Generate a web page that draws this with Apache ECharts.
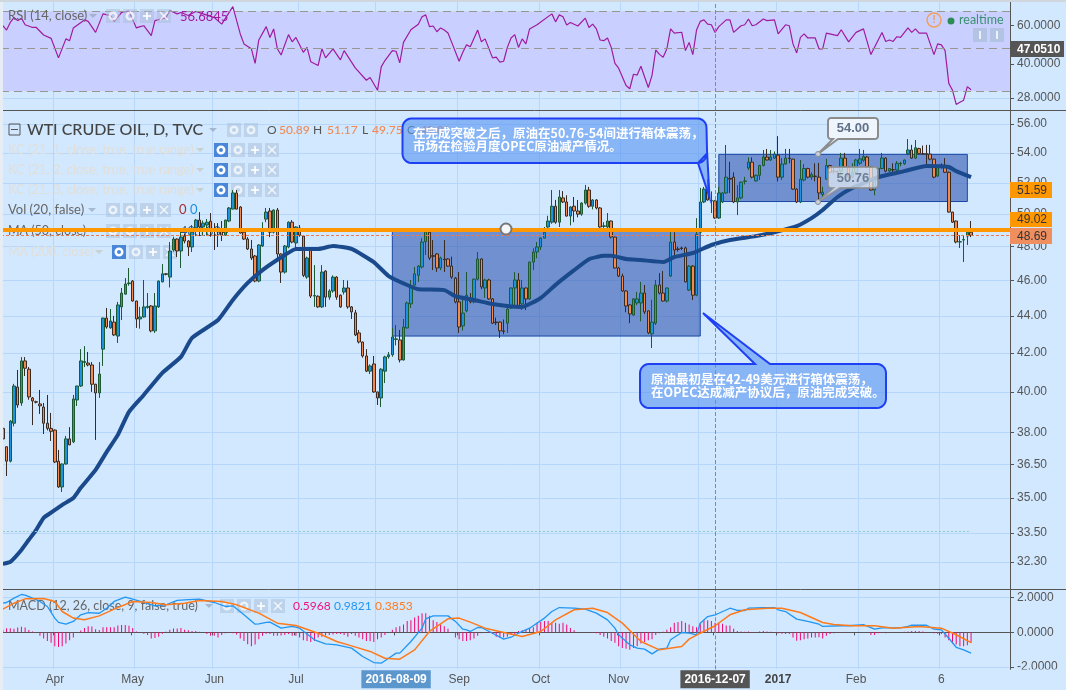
<!DOCTYPE html>
<html>
<head>
<meta charset="utf-8">
<title>WTI CRUDE OIL</title>
<style>
  html, body { margin: 0; padding: 0; background: #d1e8ff; overflow: hidden; }
  #chart { width: 1066px; height: 690px; }
</style>
<script src="https://cdn.jsdelivr.net/npm/echarts@6/dist/echarts.min.js"></script>
</head>
<body>
<div id="chart"></div>
<script>
// 横轴：每根K线一个交易日，后面留一段空白
const barCount = 272;
const tickLabels = {14: 'Apr', 35: 'May', 57: 'Jun', 79: 'Jul', 123: 'Sep', 145: 'Oct', 166: 'Nov', 209: '2017', 230: 'Feb', 253: '6'};
const gridTicks = [14, 36, 57, 80, 101, 123, 145, 167, 188, 209, 231, 253];
const crossDates = {106: '2016-08-09', 192: '2016-12-07'};
const crossIndex = 192;

// K线 [open, close, low, high]
const candles = [
  [38.2,37.7,37.3,38.44],[37.33,36.66,35.98,37.33],[36.66,38.55,36.6,38.6],[38.45,40.29,38.3,40.4],[40.24,39.34,39.2,41.11],
  [39.44,41.58,39.3,41.78],[41.58,41.2,40.8,41.78],[41.15,39.74,39.6,41.26],[39.69,39.54,38.36,39.74],[39.5,39.48,39.42,39.55],
  [39.39,39.3,38.9,40.09],[39.24,38.45,37.93,39.44],[38.45,38.2,38.1,39.84],[38.2,38.06,37.6,38.95],[38.12,36.62,36.57,38.15],
  [36.66,35.49,35.45,37.18],[35.49,36.53,35.27,36.55],[36.53,37.7,36.5,37.84],[37.7,37.42,37.4,38.26],[37.56,39.64,37.5,39.84],
  [39.59,40.29,39.29,40.3],[40.29,41.58,40.24,42.2],[41.5,41.55,41.26,42.36],[41.47,41.37,41.3,42.05],[41.37,40.38,39.99,41.52],
  [40.38,39.94,37.65,40.4],[39.94,40.9,39.69,41.52],[42.2,43.88,41.32,43.9],[43.88,43.39,43.3,44.44],[43.34,43.72,43.3,44.38],
  [43.66,42.96,42.9,44.0],[42.9,44.61,42.53,44.78],[44.5,45.28,43.77,45.57],[45.22,45.8,45.2,46.14],[45.82,45.86,45.7,46.73],
  [45.97,44.83,44.8,46.03],[44.83,43.83,43.34,44.85],[43.83,43.94,43.3,44.5],[43.94,44.5,43.9,46.03],[44.47,44.53,44.4,45.28],
  [44.55,43.18,43.1,44.6],[43.18,44.55,43.07,45.28],[44.5,45.97,44.45,46.0],[45.92,46.39,45.9,46.96],[46.39,46.36,46.3,46.42],
  [46.2,47.74,45.6,48.28],[47.8,48.46,47.7,48.6],[48.46,47.74,47.38,48.5],[47.74,48.58,46.73,49.0],[48.64,48.34,48.2,48.8],
  [48.34,47.98,47.44,48.4],[47.98,48.88,47.68,49.32],[49.14,49.63,48.64,49.7],[49.63,49.2,48.64,50.13],[49.2,49.44,48.7,49.6],
  [49.32,49.5,48.7,49.7],[49.56,49.01,48.6,50.07],[49.07,49.04,47.8,49.44],[49.0,48.9,47.98,49.44],[48.95,48.7,48.34,49.57],
  [48.7,49.63,48.7,49.65],[49.57,50.39,49.5,50.45],[50.32,51.35,50.3,51.54],[51.35,50.32,50.3,51.54],[50.45,48.83,48.8,50.5],
  [48.88,48.46,48.4,49.07],[48.46,47.86,47.8,48.58],[47.86,47.32,47.2,48.4],[47.44,45.97,45.9,47.5],[45.97,48.1,45.9,48.15],
  [48.04,48.95,47.98,49.5],[49.69,50.13,49.5,50.39],[50.2,48.88,48.58,50.39],[48.88,50.26,48.8,50.3],[50.26,47.56,47.2,50.39],
  [47.56,46.49,45.86,47.6],[46.49,48.04,46.4,48.1],[47.98,49.5,47.9,49.55],[49.5,48.28,48.2,49.63],[48.22,49.2,47.9,49.25],
  [49.14,48.7,48.6,49.32],[48.64,46.3,46.2,48.7],[46.2,47.32,46.1,47.4],[47.8,45.11,45.0,47.9],[45.11,45.14,44.5,46.9],
  [45.1,44.5,44.45,45.15],[44.5,46.49,44.45,46.9],[46.55,45.05,44.5,46.6],[45.05,45.4,44.9,45.5],[45.4,46.2,45.3,46.3],
  [46.2,45.05,44.9,46.25],[45.16,44.5,44.45,45.2],[45.34,45.57,45.2,46.03],[45.57,44.5,44.4,46.0],[44.5,44.22,43.83,44.55],
  [44.17,42.96,42.9,44.33],[43.07,42.58,42.5,43.23],[42.58,41.84,41.75,42.6],[41.84,41.05,41.0,42.2],[41.05,41.32,40.9,41.4],
  [41.42,39.99,39.95,41.84],[39.99,39.69,39.34,40.0],[39.69,41.15,39.24,41.2],[41.05,41.79,40.44,41.85],[41.8,41.9,41.7,42.05],
  [41.9,42.85,41.8,43.34],[42.72,42.75,42.4,43.5],[42.69,41.63,41.5,43.23],[41.63,43.39,41.6,43.83],[43.34,44.72,43.3,44.8],
  [44.67,45.68,44.44,46.03],[45.74,46.39,45.7,46.79],[46.3,46.84,45.92,46.9],[46.79,48.28,46.7,48.52],[48.3,48.95,47.5,49.0],
  [48.88,47.32,47.2,49.0],[47.46,47.42,46.61,48.4],[47.56,46.73,46.5,47.6],[46.73,47.32,46.6,47.4],[47.26,47.22,46.5,48.4],
  [47.26,46.84,46.8,47.3],[46.84,46.2,46.1,47.4],[46.14,44.78,44.7,46.2],[44.78,43.39,43.07,46.49],[43.45,44.16,43.2,44.89],
  [44.28,45.16,44.2,46.5],[44.95,44.78,44.7,45.28],[44.78,46.08,44.7,46.1],[46.08,47.26,46.0,47.68],[47.26,45.63,45.5,47.3],
  [45.57,46.03,45.0,46.1],[46.03,44.95,44.9,46.1],[44.95,43.6,43.55,45.0],[43.66,43.63,43.5,43.9],[43.66,43.18,42.8,43.7],
  [43.18,43.15,43.0,43.8],[43.6,44.38,43.07,44.45],[44.44,45.57,44.4,45.6],[45.57,46.03,44.5,46.49],[46.03,44.5,44.4,46.43],
  [44.67,45.57,44.33,46.03],[45.57,44.95,44.33,45.6],[44.95,47.08,44.9,47.1],[47.08,47.68,46.61,47.9],[47.68,47.98,47.3,48.28],
  [47.98,48.52,47.8,48.55],[48.52,48.88,48.5,49.2],[49.2,49.57,49.1,49.9],[49.5,50.5,49.4,51.54],[50.5,49.5,49.4,50.9],
  [49.5,51.09,49.2,51.54],[51.03,50.77,50.7,51.47],[50.77,49.88,49.85,51.2],[49.88,50.45,49.3,50.5],[50.5,50.2,49.5,51.09],
  [50.2,50.0,49.8,50.9],[50.0,50.7,49.9,50.75],[50.7,51.54,50.6,51.87],[51.54,50.5,50.4,51.74],[50.5,50.9,50.3,50.95],
  [50.9,50.39,50.3,50.95],[50.39,49.2,49.15,50.45],[49.24,49.27,49.1,49.5],[49.2,49.57,49.1,50.07],[49.57,48.58,48.5,49.6],
  [48.58,46.73,46.7,48.6],[46.73,46.26,46.2,46.8],[46.26,45.4,45.35,46.4],[45.4,44.55,44.2,45.45],[44.61,44.11,43.6,44.65],
  [44.05,44.95,44.0,45.0],[44.72,44.95,44.6,45.34],[44.72,45.28,43.7,45.92],[45.28,44.22,44.1,45.74],[44.28,43.07,43.0,44.3],
  [43.02,43.66,42.26,44.9],[43.6,45.74,43.5,46.03],[45.74,45.28,45.2,46.43],[45.28,44.83,44.8,46.55],[44.83,45.57,44.75,45.6],
  [46.26,48.28,46.2,48.88],[48.28,47.8,47.38,48.88],[47.86,47.83,47.7,48.0],[47.92,47.89,47.8,48.0],[47.92,45.92,45.9,48.0],
  [45.45,46.84,45.4,46.9],[46.84,45.16,44.89,46.9],[45.16,48.76,45.1,49.75],[48.88,50.77,48.8,51.68],[50.77,51.6,50.7,51.74],
  [51.6,50.9,50.85,52.25],[50.84,50.87,50.07,51.45],[50.84,49.76,49.7,50.9],[49.76,51.35,49.7,51.74],[50.77,51.35,50.7,51.4],
  [51.35,52.38,51.3,54.54],[52.3,52.25,51.35,53.4],[52.38,50.77,50.7,52.7],[50.77,51.03,49.94,51.87],[51.03,52.05,50.95,52.1],
  [52.1,52.13,51.9,52.4],[52.98,53.38,52.85,53.7],[53.38,52.38,52.3,53.7],[52.13,52.5,52.1,52.55],[52.5,53.15,52.19,53.2],
  [53.15,53.72,53.1,54.2],[53.72,53.52,53.5,54.27],[53.52,53.72,53.45,54.2],[53.65,53.92,53.6,54.1],[53.85,52.38,52.1,55.15],
  [52.38,53.25,52.2,53.65],[53.25,53.65,53.2,54.27],[53.65,53.62,53.3,54.27],[53.58,51.6,51.55,53.6],[51.6,50.77,50.7,51.65],
  [50.77,52.25,50.7,53.52],[52.19,52.95,52.1,53.25],[52.95,52.38,52.3,53.0],[52.38,52.55,52.2,52.7],[52.45,52.42,52.1,53.3],
  [52.38,51.35,50.9,53.32],[51.25,51.4,51.1,51.75],[52.25,53.15,52.2,53.6],[53.15,52.7,52.65,53.2],[52.78,52.75,52.6,53.0],
  [52.75,52.7,52.3,52.85],[52.78,53.65,52.4,54.0],[53.65,53.05,53.0,54.0],[53.05,52.38,52.3,53.1],[52.38,52.7,52.3,53.3],
  [52.7,53.52,52.65,53.6],[53.3,53.6,53.2,54.27],[53.5,53.75,53.4,54.2],[53.72,53.05,53.0,53.8],[53.05,51.54,51.5,53.1],
  [51.54,52.38,51.2,52.45],[52.3,52.95,52.25,53.0],[52.95,53.65,52.9,54.0],[53.65,52.78,52.7,53.7],[52.78,52.95,52.7,52.97],
  [52.88,52.85,52.7,53.3],[52.85,53.3,52.6,53.45],[53.27,53.3,53.1,53.4],[53.27,53.52,53.2,53.55],[53.95,54.2,53.85,54.95],
  [54.2,53.65,53.6,54.55],[53.65,54.35,53.6,54.88],[54.3,53.95,53.9,54.35],[53.95,53.93,53.9,54.5],[53.95,53.92,53.2,54.55],
  [53.92,53.58,53.5,54.55],[53.58,52.38,52.3,53.6],[52.45,53.15,52.4,53.2],[53.15,53.12,52.95,53.3],[53.1,52.7,52.65,53.65],
  [52.7,50.13,50.1,52.75],[50.13,49.5,49.45,50.15],[49.57,48.28,48.2,49.6],[48.28,48.3,47.92,48.7],[48.4,48.43,47.08,48.7],
  [48.64,48.88,48.1,48.9],[48.88,48.69,48.58,49.57]
];

// MA50 折线拐点 [bar, price]
const ma50 = [
  [0,32.22],[2,32.3],[5,32.79],[7,33.21],[9,33.63],[11,34.14],[13,34.36],[16,34.7],[19,35.0],[21,35.45],
  [25,36.26],[28,37.09],[31,37.89],[34,39.0],[38,39.84],[43,40.96],[48,41.79],[51,42.8],[58,43.77],[62,44.89],
  [66,45.86],[70,46.61],[76,47.5],[79,47.86],[85,47.86],[89,48.04],[94,47.86],[100,47.08],[104,46.26],[109,45.74],
  [112,45.5],[119,45.45],[122,45.1],[127,44.89],[132,44.66],[136,44.55],[140,44.5],[145,45.0],[149,45.75],[154,46.6],
  [158,47.25],[162,47.45],[164,47.45],[168,47.26],[172,47.2],[178,47.08],[181,47.38],[186,47.62],[191,48.1],[196,48.4],
  [203,48.64],[208,48.88],[214,49.25],[218,49.75],[221,50.26],[225,51.09],[229,51.67],[236,52.38],[243,52.78],[249,53.12],
  [255,53.05],[257,52.78],[261,52.38]
];

// RSI 折线拐点 [bar, value]
const rsiLine = [
  [0,60],[1,57.3],[2,62.1],[3,65.4],[4,63.3],[5,65],[6,60.6],[8,58.9],[9,58.9],[11,54.4],[13,52.5],[15,42.7],[17,52.2],[18,51.2],
  [19,58.6],[22,63.8],[23,62.8],[25,55.9],[27,68],[29,66.8],[30,62.8],[32,69],[34,70],[36,58.6],[37,59.4],[38,60],[40,54],[41,63.3],
  [44,65.4],[45,70.5],[47,68],[48,69],[50,66.8],[52,69.8],[54,68],[57,65.4],[59,61],[62,73.4],[64,55],[65,49.5],[67,47],[68,40.3],
  [69,51.6],[71,59.4],[72,53],[73,58],[74,47],[75,44],[77,54.6],[78,50.6],[79,53],[81,45.3],[82,47.7],[83,41],[85,39.4],[86,47],
  [87,42.7],[89,47],[91,41.8],[92,46.1],[95,38.4],[98,33.7],[99,34.7],[101,30.3],[102,38.8],[103,41.5],[105,46.1],[106,45.8],[107,40.5],
  [108,50.3],[110,57.5],[112,61],[113,66],[114,67.3],[115,59.4],[116,59.8],[117,56.3],[118,58.6],[119,57.3],[120,55.5],[121,50.3],
  [123,41.2],[124,45.3],[125,49],[126,48],[128,57.3],[129,50.6],[130,52.2],[132,42.7],[133,43],[134,40.8],[135,41.2],[136,47.7],
  [137,52.7],[138,54.6],[139,47.7],[140,52.2],[141,49.5],[142,58],[144,60.6],[148,68],[149,62.5],[150,67.3],[151,66],[152,60.4],
  [153,62.1],[155,59.8],[157,65],[158,58.9],[159,61],[160,58],[161,51.6],[162,51.2],[163,52.7],[164,47.7],[165,40.3],[166,38.3],
  [168,31.9],[169,30.8],[170,35.9],[171,35.6],[172,39.1],[174,31.2],[175,35.5],[176,46.4],[177,44.3],[178,43],[179,47],[180,58],
  [181,55.5],[183,56],[184,46.1],[185,50.3],[186,44.2],[187,57.3],[188,62.8],[189,63.8],[190,61],[191,60.6],[192,55.9],[193,59.4],
  [195,63.8],[196,63.8],[197,55.9],[199,60],[200,60.6],[201,64.4],[202,60],[203,60.6],[205,64.4],[206,63.3],[208,63.8],[209,55],
  [211,60.6],[212,60],[213,49.5],[214,45],[215,53],[216,55],[217,52.7],[219,52.7],[220,47],[221,47],[222,55.5],[225,54],[226,57.5],
  [228,50.6],[230,55.9],[232,58],[234,44.2],[237,55.9],[238,50.8],[239,51.6],[240,50.8],[241,53.4],[242,53],[244,58.6],[245,55.9],
  [246,58],[247,55.5],[249,55.5],[251,44.2],[252,49.5],[253,49],[254,46.1],[255,32.6],[256,30.3],[257,26.1],[258,26.7],[259,27.3],
  [260,31.5],[261,30.5]
];

// MACD 快线、慢线拐点 [bar, value]
const macdLine = [
  [0,1.68],[1,1.72],[3,1.97],[5,2.18],[6,2.14],[8,1.97],[10,1.78],[12,1.49],[14,0.82],[15,0.57],[17,0.47],[19,0.63],[21,1.01],[23,1.14],
  [26,1.1],[28,1.39],[30,1.78],[33,2.03],[35,1.91],[38,1.72],[41,1.53],[44,1.59],[47,1.84],[50,1.88],[53,1.91],[57,1.72],[60,1.49],
  [62,1.53],[65,1.01],[68,0.47],[69,0.49],[71,0.57],[72,0.59],[75,0.24],[78,0.34],[80,0.24],[84,-0.43],[87,-0.66],[90,-0.72],[94,-0.91],
  [97,-1.39],[100,-1.74],[102,-1.78],[104,-1.49],[106,-1.2],[107,-1.2],[110,-0.53],[113,0.24],[114,0.78],[116,0.95],[118,0.95],[120,0.95],
  [122,0.63],[124,0.18],[125,0.14],[126,0.05],[128,0.28],[129,0.28],[132,-0.05],[135,-0.39],[137,-0.28],[139,-0.05],[142,0.24],[146,0.82],
  [148,1.2],[150,1.43],[154,1.39],[157,1.34],[160,1.11],[163,0.72],[165,0.24],[166,-0.14],[169,-0.72],[171,-0.91],[173,-0.97],[175,-1.24],
  [177,-0.97],[179,-0.91],[180,-0.43],[183,-0.01],[185,-0.05],[187,-0.14],[188,0.53],[190,0.91],[192,1.01],[193,1.1],[196,1.39],[198,1.26],
  [200,1.26],[201,1.39],[205,1.43],[208,1.43],[209,1.3],[211,1.2],[214,0.76],[217,0.63],[220,0.47],[221,0.34],[226,0.38],[228,0.38],
  [232,0.45],[235,0.18],[237,0.26],[242,0.26],[244,0.34],[245,0.41],[249,0.41],[251,0.18],[253,0.14],[255,-0.34],[257,-0.86],[259,-1.01],[261,-1.2]
];
const signalLine = [
  [0,1.34],[3,1.68],[6,1.93],[11,1.95],[14,1.78],[16,1.2],[19,0.82],[22,0.72],[26,0.95],[30,1.34],[35,1.78],[40,1.72],[44,1.59],[49,1.68],
  [53,1.84],[59,1.78],[63,1.59],[69,1.11],[74,0.53],[79,0.39],[85,-0.05],[90,-0.53],[94,-0.78],[99,-1.1],[103,-1.49],[107,-1.55],[111,-1.01],
  [115,0.05],[120,0.78],[123,0.82],[126,0.59],[130,0.24],[136,-0.05],[140,-0.24],[145,0.05],[149,0.72],[154,1.3],[159,1.39],[163,1.14],
  [167,0.53],[172,-0.53],[177,-1.01],[183,-0.82],[185,-0.39],[188,-0.05],[192,0.38],[196,1.01],[200,1.3],[206,1.39],[210,1.39],[215,1.14],
  [221,0.57],[224,0.45],[229,0.38],[235,0.38],[240,0.24],[247,0.34],[253,0.24],[257,-0.14],[261,-0.59]
];
const macdHist = [
  0.15,0.24,0.24,0.2,0.28,0.32,0.28,0.14,0.05,0,-0.2,-0.35,-0.5,-0.6,-0.8,-0.85,-0.8,-0.65,-0.45,-0.3,
  0,0.1,0.25,0.35,0.33,0.18,0.13,0.3,0.3,0.3,0.3,0.4,0.42,0.42,0.38,0.25,0.05,-0.03,-0.08,-0.15,
  -0.35,-0.33,-0.25,-0.08,0.03,0.15,0.22,0.22,0.25,0.15,0.12,0.08,0.08,0.03,0,-0.1,-0.2,-0.2,-0.3,-0.15,
  -0.05,-0.03,-0.05,-0.12,-0.35,-0.5,-0.68,-0.8,-0.7,-0.4,-0.2,-0.08,-0.1,-0.2,-0.2,-0.18,-0.15,-0.1,-0.2,-0.2,
  -0.3,-0.45,-0.5,-0.55,-0.5,-0.3,-0.25,-0.18,-0.15,-0.12,-0.1,-0.1,-0.15,-0.25,-0.1,-0.2,-0.3,-0.4,-0.5,-0.52,
  -0.55,-0.4,-0.3,-0.15,0,0.15,0.3,0.35,0.45,0.65,0.7,0.85,0.95,1.1,1.1,0.95,0.7,0.6,0.45,0.35,
  0.2,0,-0.3,-0.4,-0.5,-0.5,-0.45,-0.35,-0.2,-0.05,0,-0.02,-0.1,-0.25,-0.3,-0.3,-0.25,-0.15,-0.1,0.08,
  0.12,0.15,0.25,0.3,0.55,0.6,0.65,0.65,0.55,0.55,0.5,0.55,0.45,0.25,0.12,0.02,0,0.02,0.02,0.02,
  -0.05,-0.15,-0.25,-0.35,-0.5,-0.6,-0.8,-0.9,-0.95,-1,-0.9,-0.8,-0.65,-0.55,-0.45,-0.4,-0.15,-0.05,0.03,0.15,
  0.3,0.55,0.6,0.65,0.55,0.45,0.35,0.3,0.55,0.7,0.7,0.65,0.55,0.55,0.5,0.4,0.4,0.2,0.08,0.05,
  0.03,0.05,0.02,0.02,0.05,0.08,0.05,0.03,0,-0.05,-0.08,-0.1,-0.1,-0.3,-0.48,-0.45,-0.4,-0.35,-0.3,-0.3,
  -0.28,-0.35,-0.2,-0.1,-0.05,-0.03,-0.02,-0.02,0,0,0,0.02,0.02,0,-0.15,-0.15,-0.05,-0.03,-0.05,-0.03,
  0,0,0,0.03,0.05,0.08,0.08,0.08,0.05,0.02,0,-0.05,-0.08,-0.1,-0.3,-0.45,-0.65,-0.7,-0.8,-0.8,-0.75,-0.6
];

// 坐标轴刻度
const priceTicks = [56, 54, 52, 50, 48, 46, 44, 42, 40, 38, 36.5, 35, 33.5, 32.3];
const rsiTicks = [60, 40, 28];
const macdTicks = [2, 0, -2];

// 水平参考线和箱体
const supportLevel = 49.06;
const closeLevel = 48.69;
const lowLevel = 33.55;
const rsiBand = [70, 30];
const rsiMid = 47.051;
const boxEarly = {from: 105, to: 188, top: 48.95, bottom: 42.9};
const boxLate = {from: 193, to: 260, top: 53.9, bottom: 50.8};

const bg = '#d1e8ff';
const gridColor = '#b6d6fb';
const axisColor = '#555555';
const labelFont = '"Liberation Sans", Arial, sans-serif';
const legendFont = 'Lato, "Noto Sans", sans-serif';
const cjkFont = '"Noto Sans CJK SC", sans-serif';

const categories = [];
for (let i = 0; i < barCount; i++) {
  categories.push(String(i));
}

function isGridTick(index) {
  return gridTicks.indexOf(index) >= 0;
}

function xAxisFor(gridIndex, withLabels) {
  return {
    type: 'category',
    gridIndex: gridIndex,
    data: categories,
    axisLine: {show: withLabels, lineStyle: {color: axisColor}},
    axisTick: {show: withLabels, interval: function (i) { return tickLabels[i] !== undefined || crossDates[i] !== undefined; }, length: 3, lineStyle: {color: axisColor}},
    axisLabel: {
      show: withLabels,
      interval: function (i) { return tickLabels[i] !== undefined || crossDates[i] !== undefined; },
      margin: 10,
      verticalAlign: 'middle',
      fontFamily: labelFont,
      fontSize: 12,
      color: axisColor,
      formatter: function (value) {
        if (value === '106') return '{blue|' + crossDates[106] + '}';
        if (value === '192') return '{dark|' + crossDates[192] + '}';
        if (value === '209') return '{bold|2017}';
        return tickLabels[value];
      },
      rich: {
        blue: {backgroundColor: '#5b96cc', color: '#fff', fontWeight: 'bold', fontSize: 12, padding: [3, 4, 3, 4]},
        dark: {backgroundColor: '#555555', color: '#fff', fontWeight: 'bold', fontSize: 12, padding: [3, 4, 3, 4]},
        bold: {color: '#444', fontWeight: 'bold', fontSize: 12}
      }
    },
    splitLine: {show: true, interval: function (i) { return isGridTick(i); }, lineStyle: {color: gridColor}}
  };
}

function yAxisFor(gridIndex, type, min, max, ticks, digits) {
  return {
    type: type,
    gridIndex: gridIndex,
    position: 'right',
    min: min,
    max: max,
    axisLine: {show: true, lineStyle: {color: axisColor}},
    axisTick: {show: true, length: 4, customValues: ticks, lineStyle: {color: axisColor}},
    axisLabel: {
      customValues: ticks,
      margin: 7,
      fontFamily: labelFont,
      fontSize: 12,
      color: axisColor,
      formatter: function (v) { return Number(v).toFixed(digits); }
    },
    splitLine: {show: true, lineStyle: {color: gridColor}}
  };
}

function crossLine() {
  return {
    symbol: 'none', silent: true, animation: false, label: {show: false},
    lineStyle: {color: '#8a8a8a', type: 'dashed', width: 1},
    data: [{xAxis: crossIndex}]
  };
}

// 以下是标注、图例等叠加图形
function text(x, y, str, color, size, weight, family, z, align) {
  return {
    type: 'text', x: x, y: y, z: z || 1, silent: true,
    style: {text: str, fill: color, fontSize: size || 13, fontWeight: weight || 'normal', fontFamily: family || legendFont, verticalAlign: 'middle', align: align || 'left'}
  };
}

function square(x, y, color, z) {
  return {type: 'rect', z: z || 1, silent: true, shape: {x: x, y: y - 7, width: 14, height: 14}, style: {fill: color}};
}

// 眼睛、齿轮、加号、叉 四个小按钮
function icons(x, y, eyeBlue, z) {
  const gray = 'rgba(170,190,215,0.5)';
  const lvl = z || 1;
  const out = [];
  out.push(square(x, y, eyeBlue ? '#4a86d8' : gray, lvl));
  out.push({type: 'ring', z: lvl, silent: true, shape: {cx: x + 7, cy: y, r: 4.5, r0: 2}, style: {fill: eyeBlue ? '#fff' : 'rgba(255,255,255,0.7)'}});
  out.push(square(x + 17, y, gray, lvl));
  out.push({type: 'ring', z: lvl, silent: true, shape: {cx: x + 24, cy: y, r: 4.5, r0: 2}, style: {fill: 'rgba(255,255,255,0.7)'}});
  out.push(square(x + 34, y, gray, lvl));
  out.push({type: 'line', z: lvl, silent: true, shape: {x1: x + 37, y1: y, x2: x + 45, y2: y}, style: {stroke: 'rgba(255,255,255,0.8)', lineWidth: 2}});
  out.push({type: 'line', z: lvl, silent: true, shape: {x1: x + 41, y1: y - 4, x2: x + 41, y2: y + 4}, style: {stroke: 'rgba(255,255,255,0.8)', lineWidth: 2}});
  out.push(square(x + 51, y, gray, lvl));
  out.push({type: 'line', z: lvl, silent: true, shape: {x1: x + 54, y1: y - 4, x2: x + 62, y2: y + 4}, style: {stroke: 'rgba(255,255,255,0.8)', lineWidth: 1.5}});
  out.push({type: 'line', z: lvl, silent: true, shape: {x1: x + 54, y1: y + 4, x2: x + 62, y2: y - 4}, style: {stroke: 'rgba(255,255,255,0.8)', lineWidth: 1.5}});
  return out;
}

function caret(x, y, color, z) {
  return {type: 'polygon', z: z || 1, silent: true, shape: {points: [[x, y - 2], [x + 8, y - 2], [x + 4, y + 2]]}, style: {fill: color}};
}

// 带尾巴的圆角气泡，tail 插入到指定角之后
function bubblePoints(x, y, w, h, r, tail, tailAfter) {
  const corners = [[x + w - r, y + r, -90], [x + w - r, y + h - r, 0], [x + r, y + h - r, 90], [x + r, y + r, 180]];
  const pts = [];
  corners.forEach(function (c, idx) {
    for (let a = 0; a <= 90; a += 15) {
      const rad = (c[2] + a) * Math.PI / 180;
      pts.push([c[0] + r * Math.cos(rad), c[1] + r * Math.sin(rad)]);
    }
    if (idx === tailAfter) {
      tail.forEach(function (p) { pts.push(p); });
    }
  });
  return pts;
}

function bubble(x, y, w, h, r, tail, tailAfter, fill, stroke, lineWidth) {
  return {
    type: 'polygon', z: 100, silent: true,
    shape: {points: bubblePoints(x, y, w, h, r, tail, tailAfter)},
    style: {fill: fill, stroke: stroke, lineWidth: lineWidth}
  };
}

const overlay = [];
// RSI 图例，要盖在紫色带上面
overlay.push(text(8, 16, 'RSI (14, close)', '#666', 13, 'normal', legendFont, 10));
overlay.push(caret(89, 16, 'rgba(150,165,185,0.7)', 10));
overlay.push.apply(overlay, icons(106, 16, false, 10));
overlay.push(text(180, 17, '56.6845', '#a01aa0', 13, 'normal', legendFont, 10));
// 主图图例
overlay.push({type: 'rect', z: 1, silent: true, shape: {x: 9, y: 124, width: 11, height: 11}, style: {fill: 'none', stroke: '#555', lineWidth: 1}});
overlay.push({type: 'line', z: 1, silent: true, shape: {x1: 11, y1: 129.5, x2: 18, y2: 129.5}, style: {stroke: '#555', lineWidth: 1}});
overlay.push(text(27, 130, 'WTI CRUDE OIL, D, TVC', '#444', 16, 500));
overlay.push(caret(209, 130, 'rgba(150,165,185,0.7)'));
overlay.push(square(227, 130, 'rgba(170,190,215,0.5)'));
overlay.push({type: 'ring', z: 1, silent: true, shape: {cx: 234, cy: 130, r: 4.5, r0: 2}, style: {fill: 'rgba(255,255,255,0.7)'}});
overlay.push(square(244, 130, 'rgba(170,190,215,0.5)'));
overlay.push({type: 'ring', z: 1, silent: true, shape: {cx: 251, cy: 130, r: 4.5, r0: 2}, style: {fill: 'rgba(255,255,255,0.7)'}});
overlay.push(text(267, 130, 'O', '#555', 12));
overlay.push(text(279, 130, '50.89', '#ef8a55', 12, 500));
overlay.push(text(313, 130, 'H', '#555', 12));
overlay.push(text(327, 130, '51.17', '#ef8a55', 12, 500));
overlay.push(text(362, 130, 'L', '#555', 12));
overlay.push(text(372, 130, '49.75', '#ef8a55', 12, 500));
overlay.push(text(407, 130, 'C', '#555', 12));
overlay.push(text(420, 130, '49.81', '#ef8a55', 12, 500));
['KC (21, 1, close, true, true range)', 'KC (21, 2, close, true, true range)', 'KC (21, 3, close, true, true range)'].forEach(function (name, idx) {
  const y = 150 + idx * 20;
  overlay.push(text(8, y, name, '#e2ded8', 13));
  overlay.push(caret(196, y, 'rgba(200,200,195,0.8)'));
  overlay.push.apply(overlay, icons(214, y, true));
});
overlay.push(text(8, 210, 'Vol (20, false)', '#666', 13));
overlay.push(caret(88, 210, 'rgba(150,165,185,0.7)'));
overlay.push.apply(overlay, icons(106, 210, false));
overlay.push(text(179, 210, '0', '#a03030', 13));
overlay.push(text(190, 210, '0', '#1e90e0', 13));
overlay.push(text(8, 231, 'MA (50, close)', '#666', 12.5));
overlay.push(caret(88, 231, 'rgba(150,165,185,0.7)'));
overlay.push.apply(overlay, icons(106, 231, false));
overlay.push(text(180, 232, '48.1034', '#2a5a90', 13));
overlay.push(text(8, 252, 'MA (200, close)', '#e2ded8', 12.5));
overlay.push(caret(95, 252, 'rgba(200,200,195,0.8)'));
overlay.push.apply(overlay, icons(112, 252, true));
// MACD 图例
overlay.push(text(8, 606, 'MACD (12, 26, close, 9, false, true)', '#666', 12.5));
overlay.push(caret(205, 606, 'rgba(150,165,185,0.7)'));
overlay.push.apply(overlay, icons(220, 606, false));
overlay.push(text(293, 606, '0.5968', '#f0127a', 12));
overlay.push(text(334, 606, '0.9821', '#2196f3', 12));
overlay.push(text(375, 606, '0.3853', '#ff7a1a', 12));

// realtime 状态
overlay.push({type: 'circle', z: 100, silent: true, shape: {cx: 934, cy: 20, r: 7}, style: {fill: 'none', stroke: '#f0a060', lineWidth: 1.5}});
overlay.push(text(934, 20, '!', '#f0a060', 11, 'bold', labelFont, 100, 'center'));
overlay.push({type: 'circle', z: 100, silent: true, shape: {cx: 951, cy: 21, r: 3.5}, style: {fill: '#2e8b57'}});
overlay.push(text(959, 20, 'realtime', '#3a9070', 12.5, 'normal', legendFont, 100));
overlay.push({type: 'rect', z: 100, silent: true, shape: {x: 973, y: 28, width: 14, height: 14}, style: {fill: 'rgba(170,190,215,0.7)'}});
overlay.push({type: 'line', z: 100, silent: true, shape: {x1: 980, y1: 31, x2: 980, y2: 39}, style: {stroke: '#fff', lineWidth: 1.5}});
overlay.push({type: 'rect', z: 100, silent: true, shape: {x: 990, y: 28, width: 14, height: 14}, style: {fill: 'rgba(170,190,215,0.7)'}});
overlay.push({type: 'line', z: 100, silent: true, shape: {x1: 997, y1: 31, x2: 997, y2: 39}, style: {stroke: '#fff', lineWidth: 1.5}});

// 分隔线和边缘遮挡
overlay.push({type: 'line', z: 90, silent: true, shape: {x1: 3, y1: 110.5, x2: 1066, y2: 110.5}, style: {stroke: '#555', lineWidth: 1}});
overlay.push({type: 'line', z: 90, silent: true, shape: {x1: 3, y1: 589.5, x2: 1066, y2: 589.5}, style: {stroke: '#555', lineWidth: 1}});
overlay.push({type: 'rect', z: 90, silent: true, shape: {x: 1011, y: 669.5, width: 55, height: 20.5}, style: {fill: bg}});
overlay.push({type: 'rect', z: 95, silent: true, shape: {x: 0, y: 0, width: 3, height: 690}, style: {fill: '#e6edf5'}});
overlay.push({type: 'rect', z: 95, silent: true, shape: {x: 0, y: 0, width: 1066, height: 2}, style: {fill: '#cfd6de'}});

// 右侧价格标签
function priceTag(y, h, w, str, fill, color, weight) {
  overlay.push({type: 'rect', z: 100, silent: true, shape: {x: 1010, y: y, width: w, height: h}, style: {fill: fill}});
  overlay.push(text(1017, y + h / 2 + 0.5, str, color, 12, weight, labelFont, 101));
}
priceTag(182, 16, 42, '51.59', '#ff9800', '#333');
priceTag(212, 15, 42, '49.02', '#ff9800', '#333');
priceTag(228, 16, 42, '48.69', '#ef8e5e', '#333');
priceTag(41, 16, 54, '47.0510', '#555555', '#fff', 'bold');

// 横线上的拖动点
overlay.push({type: 'circle', z: 100, silent: true, shape: {cx: 506, cy: 229, r: 5.5}, style: {fill: '#f4f6f8', stroke: '#777', lineWidth: 2}});

// 蓝色气泡
const bubbleFill = 'rgba(90,150,240,0.62)';
const bubbleStroke = '#1f3ff5';
overlay.push(bubble(402.5, 118.5, 304, 44.5, 9, [[707, 150], [709.5, 197], [698, 163]], 0, bubbleFill, bubbleStroke, 2));
overlay.push(text(413, 133, '在完成突破之后，原油在50.76-54间进行箱体震荡，', '#fff', 12.5, 'bold', cjkFont, 101));
overlay.push(text(413, 146, '市场在检验月度OPEC原油减产情况。', '#fff', 12.5, 'bold', cjkFont, 101));
overlay.push(bubble(640, 364, 246, 44, 9, [[755, 364], [703, 313], [770, 364]], 3, bubbleFill, bubbleStroke, 2));
overlay.push(text(651, 379, '原油最初是在42-49美元进行箱体震荡，', '#fff', 12.5, 'bold', cjkFont, 101));
overlay.push(text(651, 392, '在OPEC达成减产协议后，原油完成突破。', '#fff', 12.5, 'bold', cjkFont, 101));

// 灰色价格气泡
overlay.push(bubble(828, 118, 50, 21, 3, [[838, 139], [818, 154], [833, 139]], 1, '#eef5fd', '#8c8c8c', 2));
overlay.push(text(853, 128.5, '54.00', '#607088', 13, 'bold', labelFont, 101, 'center'));
overlay.push({type: 'circle', z: 101, silent: true, shape: {cx: 818, cy: 154, r: 2.5}, style: {fill: '#c8d2de', stroke: '#8c8c8c', lineWidth: 1}});
overlay.push(bubble(828, 167, 50, 21, 3, [[840, 188], [818, 202], [833, 188]], 1, 'rgba(232,238,245,0.72)', 'rgba(140,140,140,0.8)', 2));
overlay.push(text(853, 178, '50.76', '#6c7f95', 13, 'bold', labelFont, 101, 'center'));
overlay.push({type: 'circle', z: 101, silent: true, shape: {cx: 818, cy: 202, r: 2.5}, style: {fill: '#c8d2de', stroke: '#8c8c8c', lineWidth: 1}});

const chart = echarts.init(document.getElementById('chart'));
chart.setOption({
  animation: false,
  backgroundColor: bg,
  textStyle: {fontFamily: labelFont},
  grid: [
    {left: 1, right: 56, top: 0, height: 110, outerBoundsMode: 'none'},
    {left: 1, right: 56, top: 111, height: 479, outerBoundsMode: 'none'},
    {left: 1, right: 56, top: 590, height: 79.3, outerBoundsMode: 'none'}
  ],
  xAxis: [xAxisFor(0, false), xAxisFor(1, false), xAxisFor(2, true)],
  yAxis: [
    yAxisFor(0, 'log', 24.6, 78.75, rsiTicks, 4),
    yAxisFor(1, 'log', 31.18, 56.92, priceTicks, 2),
    yAxisFor(2, 'value', -2.13, 2.44, macdTicks, 4)
  ],
  series: [
    {
      type: 'line', name: 'RSI', xAxisIndex: 0, yAxisIndex: 0, z: 3,
      data: rsiLine, showSymbol: false, symbol: 'none',
      lineStyle: {color: '#a01aa0', width: 1.2},
      markArea: {silent: true, itemStyle: {color: '#c9d0ff'}, data: [[{yAxis: rsiBand[0]}, {yAxis: rsiBand[1]}]]},
      markLine: {
        symbol: 'none', silent: true, animation: false, label: {show: false},
        lineStyle: {color: '#999590', type: [8, 5], width: 1},
        data: [{yAxis: rsiBand[0]}, {yAxis: rsiMid}, {yAxis: rsiBand[1]}]
      }
    },
    {
      type: 'line', name: 'RSI cross', xAxisIndex: 0, yAxisIndex: 0, z: 4,
      data: [], markLine: crossLine()
    },
    {
      type: 'candlestick', name: 'WTI', xAxisIndex: 1, yAxisIndex: 1, z: 2,
      data: candles, barWidth: 3,
      itemStyle: {color: '#1f93dc', color0: '#f28a50', borderColor: '#1d5a34', borderColor0: '#3a2b22', borderWidth: 1},
      markArea: {
        silent: true,
        itemStyle: {color: 'rgba(47,85,175,0.6)', borderColor: '#1a47a0', borderWidth: 1},
        data: [
          [{coord: [boxEarly.from, boxEarly.top]}, {coord: [boxEarly.to, boxEarly.bottom]}],
          [{coord: [boxLate.from, boxLate.top]}, {coord: [boxLate.to, boxLate.bottom]}]
        ]
      }
    },
    {
      type: 'line', name: 'MA50', xAxisIndex: 1, yAxisIndex: 1, z: 3,
      data: ma50, showSymbol: false, symbol: 'none', smooth: 0.15,
      lineStyle: {color: '#1b4a8c', width: 4}
    },
    {
      type: 'line', name: 'levels', xAxisIndex: 1, yAxisIndex: 1, z: 6,
      data: [],
      markLine: {
        symbol: 'none', silent: true, animation: false, label: {show: false},
        data: [
          {yAxis: supportLevel, lineStyle: {color: '#ff9800', width: 4, type: 'solid'}},
          {yAxis: closeLevel, lineStyle: {color: '#ef7a4a', width: 1, type: [3, 2]}},
          {xAxis: crossIndex, lineStyle: {color: '#8a8a8a', width: 1, type: 'dashed'}},
          [{coord: [0, lowLevel], lineStyle: {color: '#8fc9c9', width: 1, type: [2, 2]}}, {coord: [261, lowLevel]}]
        ]
      }
    },
    {
      type: 'bar', name: 'Histogram', xAxisIndex: 2, yAxisIndex: 2, z: 2,
      data: macdHist, barWidth: 1,
      itemStyle: {color: '#f5076f'}
    },
    {
      type: 'line', name: 'MACD', xAxisIndex: 2, yAxisIndex: 2, z: 3,
      data: macdLine, showSymbol: false, symbol: 'none',
      lineStyle: {color: '#2196f3', width: 1.3},
      markLine: crossLine()
    },
    {
      type: 'line', name: 'Signal', xAxisIndex: 2, yAxisIndex: 2, z: 4,
      data: signalLine, showSymbol: false, symbol: 'none',
      lineStyle: {color: '#ff7a1a', width: 1.5}
    }
  ],
  graphic: {elements: overlay}
});
</script>
</body>
</html>
